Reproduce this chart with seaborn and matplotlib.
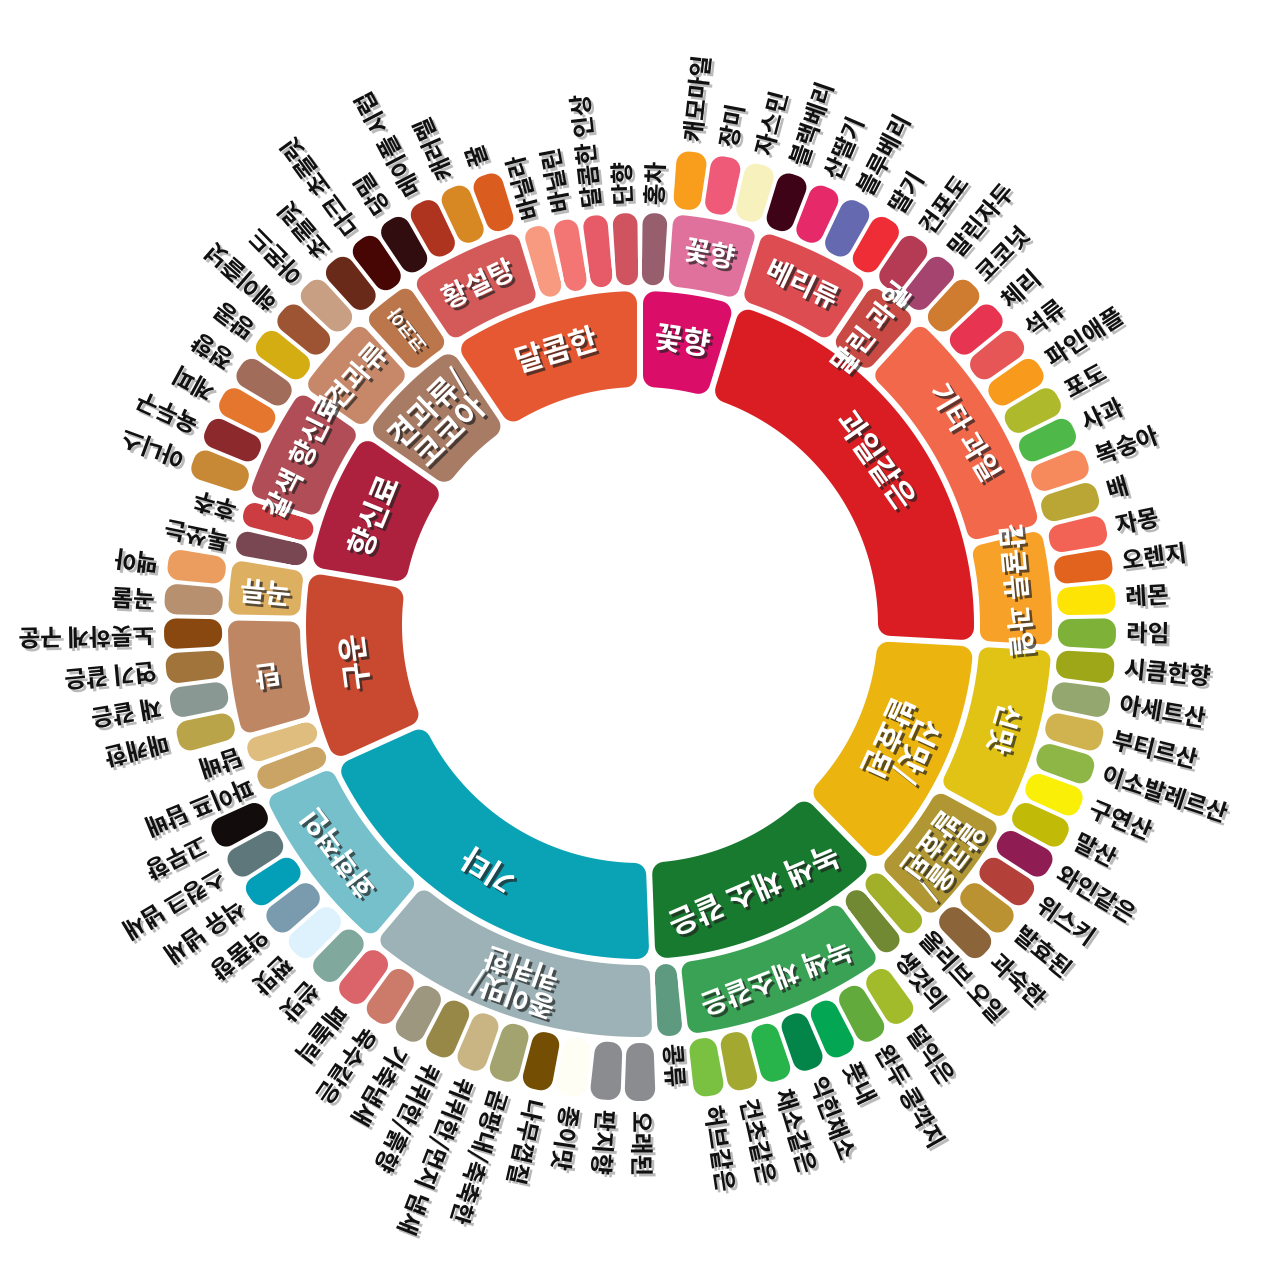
import numpy as np
import pandas as pd
import matplotlib
matplotlib.use("Agg")
import matplotlib.pyplot as plt
import matplotlib.patheffects as pe
import seaborn as sns

# ---- level 1 (inner ring) ----
top_names = ['꽃향', '과일같은', '신맛/\n발효된', '녹색 채소 같은', '기타', '구운', '향신료',
             '견과류/\n코코아', '달콤한']
top_colors = ['#da0d68', '#da1d23', '#ebb40f', '#187a2f', '#0aa3b5', '#c94930', '#ad213e',
              '#a87b64', '#e65832']

# ---- level 2 (middle ring) ----
mid_names = ['홍차', '꽃향', '베리류', '말린 과일', '기타 과일', '감귤류 과일', '신맛', '알코올/\n발효된',
             '올리브 오일', '생것의', '녹색 채소같은', '콩류', '종이맛/\n퀴퀴한', '화학적인',
             '파이프 담배', '담배', '탄', '곡류', '톡쏘는', '후추', '갈색 향신료', '견과류', '코코아',
             '황설탕', '바닐라', '바닐린', '달콤한 인상', '단향']
mid_parent = [0, 0, 1, 1, 1, 1, 2, 2, 3, 3, 3, 3, 4, 4, 5, 5, 5, 5, 6, 6, 6, 7, 7, 8, 8, 8, 8, 8]
mid_colors = ['#975e6d', '#e0719c', '#dd4c51', '#c94a44', '#f2684b', '#f7a128', '#e1c315', '#b09733',
              '#a2b029', '#718933', '#3aa255', '#5e9a80', '#9db2b7', '#76c0cb',
              '#caa465', '#dfbd7e', '#be8663', '#ddaf61', '#794752', '#cc3d41', '#b14d57', '#c78869',
              '#bb764c', '#d45a59', '#f89a80', '#f37674', '#e75b68', '#d0545f']
# label orientation inside the ring: t = tangential, r = radial
mid_orient = ['t', 't', 't', 'r', 't', 't', 't', 't', 't', 't', 't', 't', 't', 't',
              't', 't', 'r', 'r', 't', 't', 't', 't', 'r', 't', 't', 't', 't', 't']

# ---- level 3 (outer ring) ----
leaf_names = ['캐모마일', '장미', '자스민',
              '블랙베리', '산딸기', '블루베리', '딸기',
              '건포도', '말린자두',
              '코코넛', '체리', '석류', '파인애플', '포도', '사과', '복숭아', '배',
              '자몽', '오렌지', '레몬', '라임',
              '시큼한향', '아세트산', '부티르산', '이소발레르산', '구연산', '말산',
              '와인같은', '위스키', '발효된', '과숙한',
              '덜익은', '완두 콩깍지', '풋내', '익힌채소', '채소같은', '건초같은', '허브같은',
              '오래된', '판지향', '종이맛', '나무껍질', '곰팡내/축축한', '퀴퀴한/먼지 냄새',
              '퀴퀴한/흙향', '가축냄새', '육수같은', '페놀릭',
              '쓴맛', '짠맛', '약품향', '석유 냄새', '스컹크 냄새', '고무향',
              '매캐한', '재 같은', '연기 같은', '노릇하게 구운',
              '곡물', '맥아',
              '아니스', '육두구', '계피', '정향',
              '땅콩', '헤이즐넛', '아몬드',
              '초콜릿', '다크 초콜릿',
              '당밀', '메이플 시럽', '캐러멜', '꿀']
leaf_parent = [1, 1, 1,
               2, 2, 2, 2,
               3, 3,
               4, 4, 4, 4, 4, 4, 4, 4,
               5, 5, 5, 5,
               6, 6, 6, 6, 6, 6,
               7, 7, 7, 7,
               10, 10, 10, 10, 10, 10, 10,
               12, 12, 12, 12, 12, 12, 12, 12, 12, 12,
               13, 13, 13, 13, 13, 13,
               16, 16, 16, 16,
               17, 17,
               20, 20, 20, 20,
               21, 21, 21,
               22, 22,
               23, 23, 23, 23]
leaf_colors = ['#f99e1c', '#ef5a78', '#f7f1bd',
               '#3e0317', '#e62969', '#6569b0', '#ef2d36',
               '#b53b54', '#a5446f',
               '#cf7b30', '#e73451', '#e65656', '#f89a1c', '#aeb92c', '#4eb849', '#f68a5c', '#baa635',
               '#f26355', '#e2631e', '#fde404', '#7eb138',
               '#9ea718', '#94a76f', '#d0b24f', '#8eb646', '#faef07', '#c1ba07',
               '#8f1c53', '#b34039', '#ba9232', '#8b6439',
               '#a2bb2b', '#62aa3c', '#03a653', '#038549', '#28b44b', '#a3a830', '#7ac141',
               '#8b8c90', '#8b8c90', '#fefef4', '#744e03', '#a3a36f', '#c9b583',
               '#978847', '#9d977f', '#cc7b6a', '#db646a',
               '#80a89d', '#def2fd', '#7a9bae', '#039fb8', '#5e777b', '#120c0c',
               '#b9a449', '#899893', '#a1743b', '#894810',
               '#b7906f', '#eb9d5f',
               '#c78936', '#8c292c', '#e5762e', '#a16c5a',
               '#d4ad12', '#9d5433', '#c89f83',
               '#692a19', '#470604',
               '#310d0f', '#ae341f', '#d78823', '#da5c1f']

# ---- one slot per leaf (depth-2 nodes without children count as leaves) ----
rows = []
for mi in range(len(mid_names)):
    kids = [k for k, p in enumerate(leaf_parent) if p == mi]
    if kids:
        for k in kids:
            rows.append({'top': mid_parent[mi], 'mid': mi, 'leaf': k})
    else:
        rows.append({'top': mid_parent[mi], 'mid': mi, 'leaf': -1})
slots = pd.DataFrame(rows)
step = 2 * np.pi / len(slots)
slots['t0'] = np.arange(len(slots)) * step
slots['t1'] = slots['t0'] + step

DPI = 100
R_IN = (238, 334)
R_MID = (340, 412)
R_OUT = (418, 476)

sns.set_theme(style='white')
plt.rcParams['font.family'] = ['Noto Sans CJK KR', 'DejaVu Sans']

fig = plt.figure(figsize=(12.8, 12.8), dpi=DPI)
ax = fig.add_axes([0, 1 - 625 / 1280 - 0.5, 1, 1], projection='polar')
ax.set_theta_zero_location('N')
ax.set_theta_direction(-1)
ax.set_ylim(0, 640)
ax.set_axis_off()


def sector(t0, t1, r0, r1, color, rc, gap):
    # rounded sector: shrunk polygon stroked with a round-joined edge
    ra, rb = r0 + rc, r1 - rc
    d = gap / 2 + rc
    a0, a1 = t0 + np.arcsin(d / ra), t1 - np.arcsin(d / ra)
    b0, b1 = t0 + np.arcsin(d / rb), t1 - np.arcsin(d / rb)
    if a1 < a0:
        a0 = a1 = (t0 + t1) / 2
    if b1 < b0:
        b0 = b1 = (t0 + t1) / 2
    th = np.r_[np.linspace(b0, b1, 60), np.linspace(a1, a0, 60)]
    rr = np.r_[np.full(60, rb), np.full(60, ra)]
    ax.fill(th, rr, facecolor=color, edgecolor=color, linewidth=2 * rc * 72 / DPI,
            joinstyle='round', zorder=2)


def norm(a):
    return (a + 180) % 360 - 180


white_fx = [pe.SimplePatchShadow(offset=(2, -2), shadow_rgbFace='#222222', alpha=0.7), pe.Normal()]
black_fx = [pe.SimplePatchShadow(offset=(2, -2), shadow_rgbFace='#666666', alpha=0.45), pe.Normal()]


def inside_label(t0, t1, r, text, orient, size):
    tm = (t0 + t1) / 2
    deg = np.degrees(tm)
    rot = norm(-deg) if orient == 't' else norm(90 - deg)
    ax.text(tm, r, text, rotation=rot, rotation_mode='anchor', ha='center', va='center',
            ma='center', color='white', fontsize=size, fontweight='bold',
            linespacing=1.0, path_effects=white_fx, zorder=5)


def outside_label(t, r, text):
    rot = norm(90 - np.degrees(t))
    ax.text(t, r, text, rotation=rot, rotation_mode='anchor', ha='left', va='center',
            color='#111111', fontsize=17, fontweight='bold', path_effects=black_fx, zorder=5)


# inner ring
for ti, g in slots.groupby('top'):
    t0, t1 = g['t0'].min(), g['t1'].max()
    sector(t0, t1, R_IN[0], R_IN[1], top_colors[ti], 12, 6)
    inside_label(t0, t1, sum(R_IN) / 2, top_names[ti], 't', 22)

# middle ring
for mi, g in slots.groupby('mid'):
    t0, t1 = g['t0'].min(), g['t1'].max()
    if (g['leaf'] < 0).all():
        sector(t0, t1, R_MID[0], R_MID[1], mid_colors[mi], 11, 5)
        outside_label((t0 + t1) / 2, R_MID[1] + 8, mid_names[mi])
    else:
        sector(t0, t1, R_MID[0], R_MID[1], mid_colors[mi], 10, 6)
        size = 13 if mid_names[mi] == '코코아' else 20
        inside_label(t0, t1, sum(R_MID) / 2, mid_names[mi], mid_orient[mi], size)

# outer ring
for _, s in slots[slots['leaf'] >= 0].iterrows():
    k = int(s['leaf'])
    sector(s['t0'], s['t1'], R_OUT[0], R_OUT[1], leaf_colors[k], 12, 4)
    outside_label((s['t0'] + s['t1']) / 2, R_OUT[1] + 10, leaf_names[k])

fig.savefig('out.png', dpi=DPI, facecolor='white')
